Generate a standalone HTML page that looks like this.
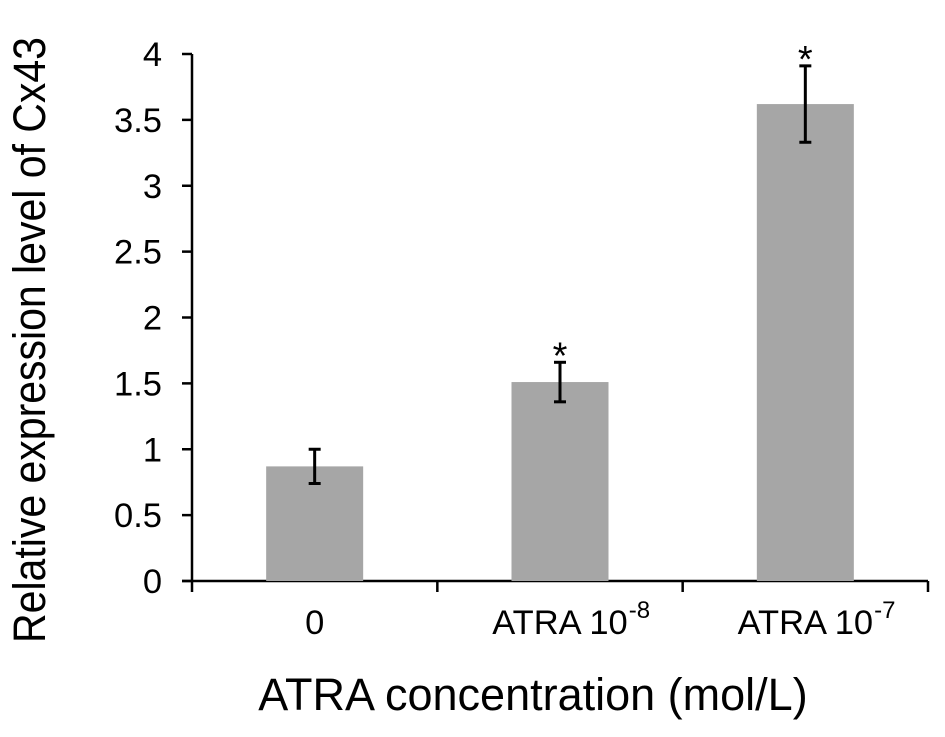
<!DOCTYPE html>
<html><head><meta charset="utf-8"><style>
html,body{margin:0;padding:0;background:#fff}
svg{display:block;font-family:"Liberation Sans",Arial,sans-serif}
</style></head><body>
<svg id="chart" width="945" height="737" viewBox="0 0 945 737" xmlns="http://www.w3.org/2000/svg">
<g id="axes"></g>
<g id="bars"></g>
<text transform="translate(45,340) rotate(-90) scale(1,1.1)" text-anchor="middle" font-size="41" fill="#000">Relative expression level of Cx43</text>
<text x="533" y="710" text-anchor="middle" font-size="45" fill="#000">ATRA concentration (mol/L)</text>
</svg>
<script>
const categories = ["0", "ATRA 10", "ATRA 10"];
const superscripts = ["", "-8", "-7"];
const values = [0.87, 1.51, 3.62];
const errors = [0.13, 0.15, 0.29];
const significant = [false, true, true];
const yTicks = [0, 0.5, 1, 1.5, 2, 2.5, 3, 3.5, 4];
const yTickLabels = ["0", "0.5", "1", "1.5", "2", "2.5", "3", "3.5", "4"];

const NS = "http://www.w3.org/2000/svg";
const X0 = 192, X1 = 928, Y0 = 581, Y1 = 54, YMAX = 4;
const bandW = (X1 - X0) / categories.length;
const yScale = v => Y0 - (v / YMAX) * (Y0 - Y1);
const xBand = i => X0 + i * bandW;
const barW = 97;
function mk(tag, attrs, parent) {
  const e = document.createElementNS(NS, tag);
  for (const k in attrs) e.setAttribute(k, attrs[k]);
  parent.appendChild(e);
  return e;
}
const axes = document.getElementById("axes");
const bars = document.getElementById("bars");

const yAxis = mk("line", {x1: X0, y1: Y1, x2: X0, y2: Y0, stroke: "#000", "stroke-width": 2.5}, axes);


const xAxis = mk("line", {x1: X0 - 10, y1: Y0, x2: X1, y2: Y0, stroke: "#000", "stroke-width": 2.5}, axes);



yTicks.forEach((t, i) => {
  const y = yScale(t);
  const tk = mk("line", {x1: X0 - 10, y1: y, x2: X0, y2: y, stroke: "#000", "stroke-width": 2.5}, axes);
  
  
  const lb = mk("text", {x: 162, y: y + 12, "text-anchor": "end", "font-size": 34.5, fill: "#000"}, axes);
  lb.textContent = yTickLabels[i];
  
  
});
for (let i = 0; i <= categories.length; i++) {
  const x = xBand(i);
  const tk = mk("line", {x1: x, y1: Y0, x2: x, y2: Y0 + 11, stroke: "#000", "stroke-width": 2.5}, axes);
  
  
}
categories.forEach((c, i) => {
  const cx = xBand(i) + bandW / 2;
  const top = yScale(values[i]);
  const r = mk("rect", {x: cx - barW / 2, y: top, width: barW, height: Y0 - top, fill: "#a6a6a6"}, bars);
  
  
  const eTop = yScale(values[i] + errors[i]), eBot = yScale(values[i] - errors[i]);
  const g = mk("g", {stroke: "#000", "stroke-width": 3}, bars);
  
  
  mk("line", {x1: cx, y1: eTop, x2: cx, y2: eBot}, g);
  mk("line", {x1: cx - 6, y1: eTop, x2: cx + 6, y2: eTop}, g);
  mk("line", {x1: cx - 6, y1: eBot, x2: cx + 6, y2: eBot}, g);
  if (significant[i]) {
    const s = mk("text", {x: cx, y: eTop + 6, "text-anchor": "middle", "font-size": 38, fill: "#000"}, bars);
    s.textContent = "*";
    
    
  }
  const lb = mk("text", {x: cx, y: 634, "text-anchor": "middle", "font-size": 34.5, fill: "#000"}, axes);
  
  
  lb.textContent = c;
  if (superscripts[i]) {
    const w = lb.getComputedTextLength();
    const sp = mk("text", {x: cx + w / 2 + 1, y: 618, "font-size": 24, fill: "#000"}, axes);
    sp.textContent = superscripts[i];
    
    
  }
});
</script>
</body></html>
